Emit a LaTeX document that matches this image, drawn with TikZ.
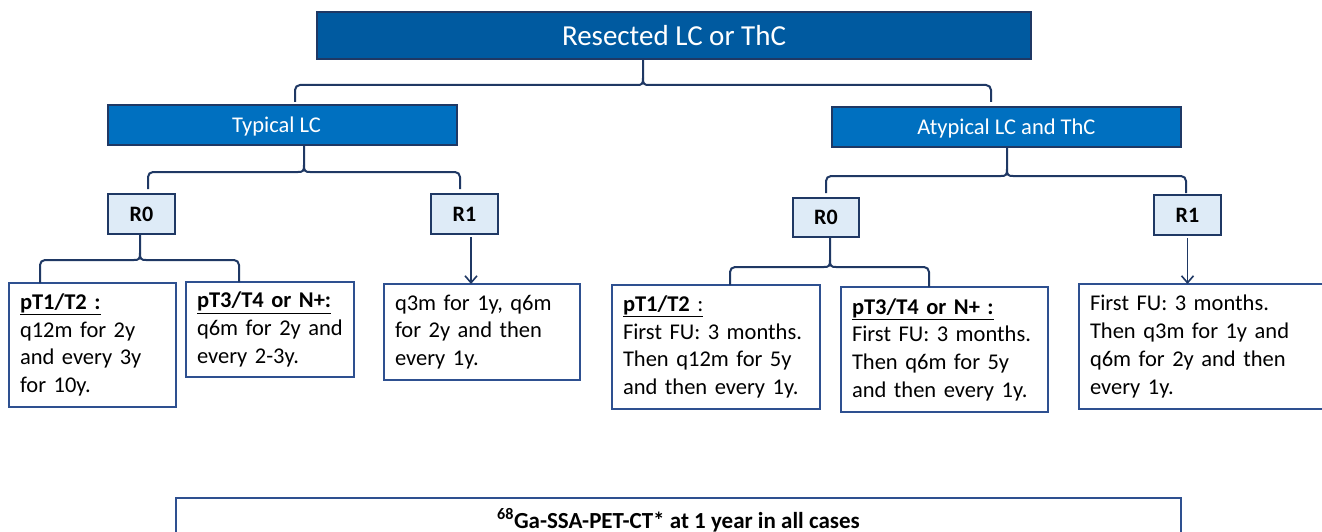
\documentclass[tikz,border=0pt]{standalone}
\usepackage{fontspec}
\setmainfont{Carlito}
\usetikzlibrary{arrows.meta}
\definecolor{navy}{HTML}{1F3864}
\definecolor{topblue}{HTML}{005AA0}
\definecolor{midblue}{HTML}{0070C0}
\definecolor{lightblue}{HTML}{DEEBF7}
\definecolor{boxline}{HTML}{2E5090}
\tikzset{
  base/.style={anchor=north west, inner sep=0pt, outer sep=0pt},
  topbox/.style={base, draw=navy, line width=2pt, fill=topblue, text=white, text depth=0pt, font=\fontsize{29}{35}\selectfont},
  catbox/.style={base, draw=navy, line width=2pt, fill=midblue, text=white, text depth=0pt, font=\fontsize{22.5}{27}\selectfont},
  rbox/.style={base, draw=navy, line width=2pt, fill=lightblue, text depth=0pt, font=\fontsize{22}{27}\selectfont\bfseries},
  infobox/.style={base, draw=boxline, line width=1.6pt, fill=white, inner xsep=11pt, align=left, font=\fontsize{22.5}{27.7}\selectfont},
  botbox/.style={base, draw=boxline, line width=1.6pt, fill=white, font=\fontsize{23}{28}\selectfont\bfseries},
  conn/.style={draw=navy, line width=2pt},
  arr/.style={draw=navy, line width=1.6pt, -{Straight Barb[length=7pt,width=12pt]}}
}
% #1 parent, #2 stem x, #3 bar y, #4 left x, #5 left end y, #6 right x, #7 right end y
\newcommand\forkdraw[7]{%
  \draw[conn] (#1.south -| #2,0) -- (#2,#3-7) .. controls (#2,#3-1) and (#2-1,#3) .. (#2-6,#3)
     [rounded corners=5pt] -- (#4,#3) -- (#4,#5);
  \draw[conn] (#2,#3-7) .. controls (#2,#3-1) and (#2+1,#3) .. (#2+6,#3)
     [rounded corners=5pt] -- (#6,#3) -- (#6,#7);
}
\begin{document}
\begin{tikzpicture}[x=1pt,y=-1pt]
\useasboundingbox[fill=white] (0,0) rectangle (1322,532);

\node[topbox, minimum width=714pt, minimum height=47pt] (top) at (317,12) {Resected LC or ThC};

\node[catbox, minimum width=349pt, minimum height=40pt] (typ) at (108,105) {\hspace*{-12pt}Typical LC};
\node[catbox, minimum width=349pt, minimum height=40pt] (atyp) at (832,107) {Atypical LC and ThC};

\node[rbox, minimum width=67pt, minimum height=40pt] (r0a) at (108,194) {R0};
\node[rbox, minimum width=67pt, minimum height=40pt] (r1a) at (431,194) {R1};
\node[rbox, minimum width=66pt, minimum height=39pt] (r0b) at (793,198) {R0};
\node[rbox, minimum width=67pt, minimum height=40pt] (r1b) at (1154,195) {R1};

\node[infobox, text width=145pt, minimum height=124pt] (c1) at (9,283)
  {\underline{\textbf{pT1/T2 :}}\\q12m for 2y\\and every 3y\\for 10y.};
\node[infobox, text width=146pt, minimum height=95pt] (c2) at (186,282)
  {\underline{\textbf{pT3/T4 or N+:}}\\q6m for 2y and\\every 2-3y.};
\node[infobox, text width=174pt, minimum height=96pt] (c3) at (384,284)
  {q3m for 1y, q6m\\for 2y and then\\every 1y.};
\node[infobox, text width=186pt, minimum height=124pt] (c4) at (612,285)
  {\underline{\textbf{pT1/T2} :}\\First FU: 3 months.\\Then q12m for 5y\\and then every 1y.};
\node[infobox, text width=185pt, minimum height=125pt] (c5) at (841,287)
  {\underline{\textbf{pT3/T4 or N+ :}}\\First FU: 3 months.\\Then q6m for 5y\\and then every 1y.};
\node[infobox, text width=238pt, minimum height=125pt] (c6) at (1079,284)
  {First FU: 3 months.\\Then q3m for 1y and\\q6m for 2y and then\\every 1y.};

\node[botbox, minimum width=1005pt, minimum height=44pt] (bot) at (176,498)
  {\textsuperscript{68}Ga-SSA-PET-CT* at 1 year in all cases};

\forkdraw{top}{643}{85}{295}{102}{991}{102}
\forkdraw{typ}{304}{172}{148}{189}{460}{189}
\forkdraw{atyp}{1007}{176}{826}{193}{1186}{193}
\forkdraw{r0a}{140}{260}{40}{283}{239}{282}
\forkdraw{r0b}{830}{267}{730}{285}{929}{287}

\draw[arr, shorten <=3pt] (r1a.south -| 471,0) -- (c3.north -| 471,0);
\draw[arr, shorten <=3pt] (r1b.south) -- (r1b.south |- c6.north);
\end{tikzpicture}
\end{document}
